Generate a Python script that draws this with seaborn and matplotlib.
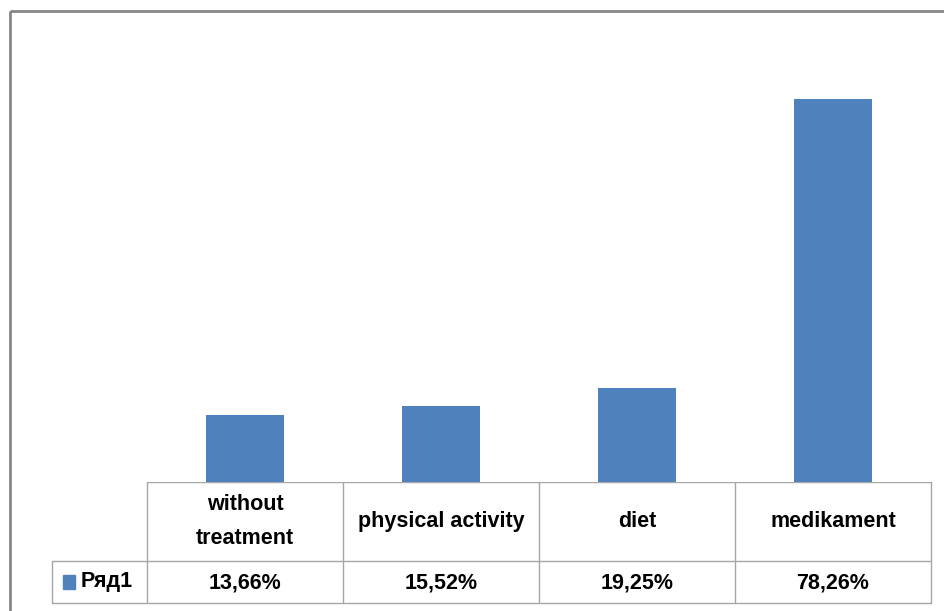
import matplotlib
matplotlib.use('Agg')
import matplotlib.pyplot as plt
import matplotlib.transforms as mtransforms
from matplotlib.patches import Rectangle
import seaborn as sns
import pandas as pd

categories = ['without\ntreatment', 'physical activity', 'diet', 'medikament']
values = [13.66, 15.52, 19.25, 78.26]
value_labels = ['13,66%', '15,52%', '19,25%', '78,26%']
series_name = 'Ряд1'

bar_color = '#4F81BD'
grid_color = '#A6A6A6'
W, H = 944, 611

sns.set_theme(style='white')
plt.rcParams['font.family'] = ['Liberation Sans', 'DejaVu Sans']

df = pd.DataFrame({'cat': categories, 'val': values})

fig = plt.figure(figsize=(W / 100, H / 100), dpi=100)

# plot area in pixel terms: x 147..931, baseline y=482
left, right, base, top = 147, 931, 482, 42
ax = fig.add_axes([left / W, (H - base) / H, (right - left) / W, (base - top) / H])
sns.barplot(data=df, x='cat', y='val', color=bar_color, width=0.4,
            saturation=1, ax=ax, edgecolor='none')
ax.set_ylim(0, 90)
ax.set_xlim(-0.5, len(categories) - 0.5)
ax.set_xticks([])
ax.set_yticks([])
ax.set_xlabel('')
ax.set_ylabel('')
for s in ax.spines.values():
    s.set_visible(False)

# overlay in pixel coordinates for frame and data table grid
ov = fig.add_axes([0, 0, 1, 1], zorder=-1)
ov.set_xlim(0, W)
ov.set_ylim(H, 0)
ov.axis('off')
ov.add_patch(Rectangle((9.5, 10.5), W, H, fill=False, edgecolor='#878787', lw=2))

row1, row2, row3 = 482, 561, 603
col_edges = [left + i * (right - left) / len(categories) for i in range(len(categories) + 1)]
ov.plot([left, right], [row1, row1], color=grid_color, lw=1)
ov.plot([52, right], [row2, row2], color=grid_color, lw=1)
ov.plot([52, right], [row3, row3], color=grid_color, lw=1)
ov.plot([52, 52], [row2, row3], color=grid_color, lw=1)
for x in col_edges:
    ov.plot([x, x], [row1, row3], color=grid_color, lw=1)

fs = 15.5
# legend key and series name
ov.add_patch(Rectangle((63, 575), 12, 14, color=bar_color))
ov.text(81, 582, series_name, fontsize=fs, fontweight='bold', va='center', ha='left',
        color='black')

# category and value texts aligned to bar positions
trans = mtransforms.blended_transform_factory(ax.transData, ov.transData)
for i, (c, v) in enumerate(zip(categories, value_labels)):
    ax.text(i, (row1 + row2) / 2, c, transform=trans, ha='center', va='center',
            fontsize=fs, fontweight='bold', linespacing=1.85, clip_on=False,
            color='black')
    ax.text(i, (row2 + row3) / 2 + 1, v, transform=trans, ha='center', va='center',
            fontsize=fs, fontweight='bold', clip_on=False, color='black')

fig.savefig('out.png', dpi=100, facecolor='white')
